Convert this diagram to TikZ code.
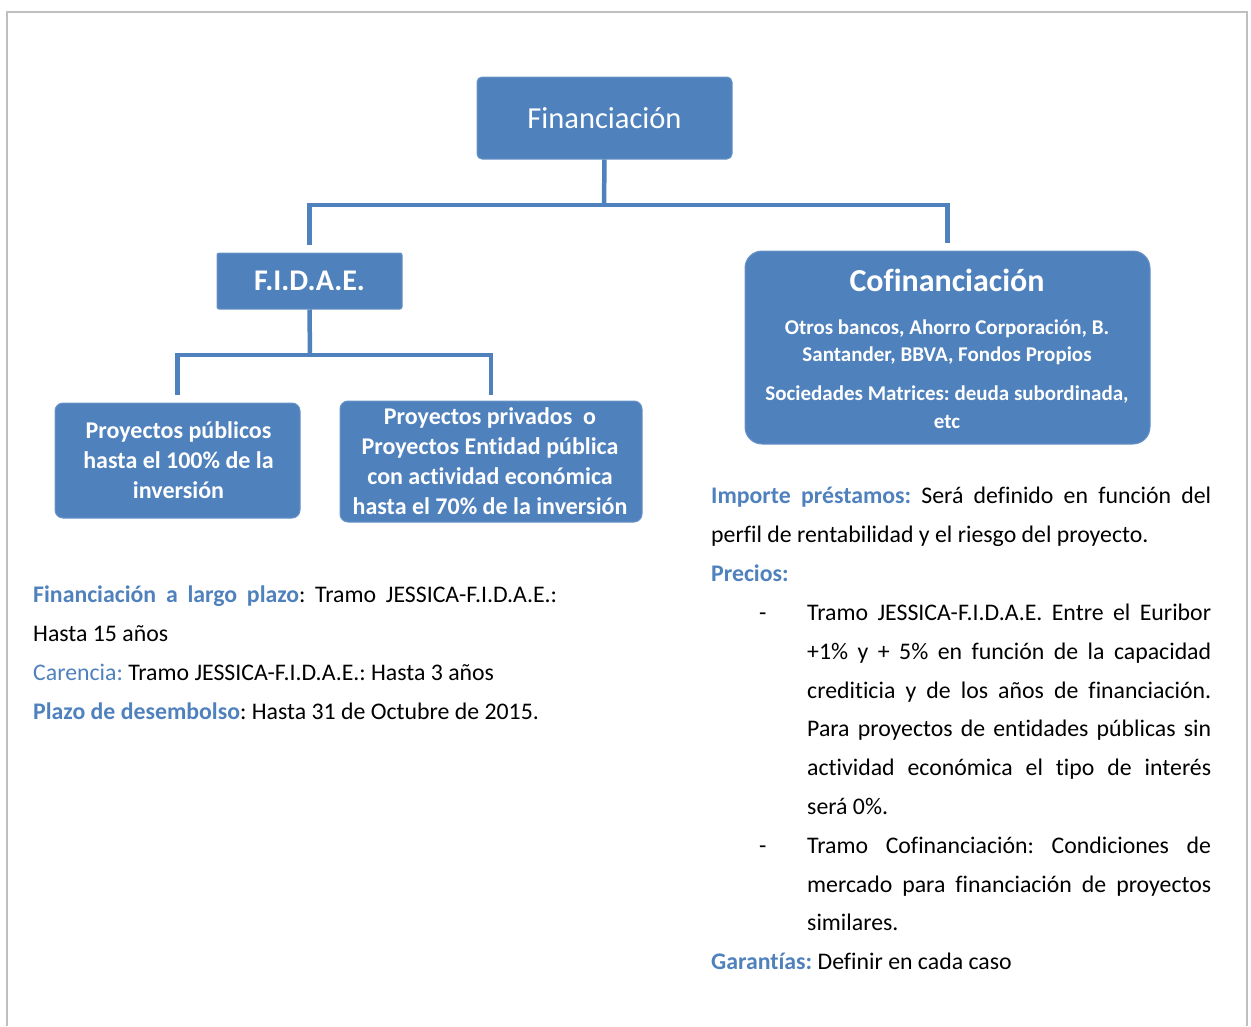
\documentclass[tikz,border=0pt]{standalone}
\usepackage{fontspec}
\setmainfont{Carlito}[Ligatures={NoCommon,NoContextual}]
\definecolor{boxblue}{HTML}{4F81BD}
\definecolor{lblblue}{HTML}{4F81BD}
\definecolor{framegray}{HTML}{BFBFBF}
\newcommand\bodyf{\fontsize{23.8}{28}\selectfont}
\newcommand\lbl[1]{\textcolor{lblblue}{\bfseries #1}}
\newcommand\jl[2]{\makebox[#1pt][s]{#2}}
\begin{document}
\frenchspacing
\begin{tikzpicture}[x=1pt,y=-1pt,
  box/.style={fill=boxblue, draw=boxblue!85!white, line width=1pt, text=white, align=center, inner sep=0pt},
  conn/.style={draw=boxblue, line width=4.5pt},
  txt/.style={anchor=base west, inner sep=0pt, font=\bodyf},
  boxtxt/.style={text=white, align=center, inner sep=0pt}]
\useasboundingbox (0,0) rectangle (1251,1026);
% frame
\draw[framegray, line width=1.5pt] (7,1026) -- (7,12) -- (1247,12) -- (1247,1026);
% boxes
\node[box, rounded corners=5pt, minimum width=255pt, minimum height=82pt,
  font=\fontsize{30.5}{36}\selectfont] (fin) at (604.5,118) {Financiación};
\node[box, rounded corners=2pt, minimum width=185pt, minimum height=56pt,
  font=\fontsize{30}{36}\selectfont\bfseries] (fidae) at (309.5,281) {F.I.D.A.E.};
\node[box, rounded corners=8pt, minimum width=245pt, minimum height=115pt] (pub) at (177.5,460.5) {};
\node[boxtxt, font=\fontsize{24}{30}\selectfont\bfseries] (pubt) at (178.5,460.5) {Proyectos públicos\\hasta el 100\% de la\\inversión};
\node[box, rounded corners=8pt, minimum width=302pt, minimum height=121pt] (priv) at (491,461.5) {};
\node[boxtxt, font=\fontsize{24}{30}\selectfont\bfseries] (privt) at (490,461.5) {Proyectos privados\ \ o\\Proyectos Entidad\ pública\\con actividad económica\\hasta el 70\% de la inversión};
\node[box, rounded corners=17pt, minimum width=405pt, minimum height=193pt] (cof) at (947.5,347.5) {};
\node[boxtxt, font=\fontsize{32}{36}\selectfont\bfseries] (coft) at (947,280) {Cofinanciación};
\node[boxtxt, font=\fontsize{21}{27}\selectfont\bfseries] (cofs1) at (947,342.5) {Otros bancos, Ahorro\ Corporación,\ B.\\Santander, BBVA, Fondos\ Propios};
\node[boxtxt, font=\fontsize{21}{28}\selectfont\bfseries] (cofs2) at (947,407) {Sociedades Matrices: deuda subordinada,\\etc};
% connectors
\coordinate (j1) at (604,205);
\coordinate (j2) at (310,355);
\draw[conn] (fin.south) -- (j1);
\draw[conn] ([yshift=8pt]fidae.north) |- (j1) -| ([yshift=8pt]cof.north);
\draw[conn] (fidae.south) -- (j2);
\draw[conn] ([yshift=8pt]pub.north) |- (j2) -| ([yshift=6pt]priv.north);
% left text
\node[txt] (l1) at (33,602) {\jl{524}{\lbl{Financiación a largo plazo}: Tramo JESSICA-F.I.D.A.E.:}};
\node[txt] (l2) at (33,641) {Hasta 15 años};
\node[txt] (l3) at (33,680) {\textcolor{lblblue}{Carencia:} Tramo JESSICA-F.I.D.A.E.: Hasta 3 años};
\node[txt] (l4) at (33,719) {\lbl{Plazo de desembolso}: Hasta 31 de Octubre de 2015.};
% right text
\node[txt] (r1) at (711,503) {\jl{500}{\lbl{Importe préstamos:} Será definido en función del}};
\node[txt] (r2) at (711,542) {perfil de rentabilidad y el riesgo del proyecto.};
\node[txt] (r3) at (711,581) {\lbl{Precios:}};
\node[txt] (b1) at (759,620) {-};
\node[txt] (r4) at (807,620) {\jl{404}{Tramo JESSICA-F.I.D.A.E. Entre el Euribor}};
\node[txt] (r5) at (807,659) {\jl{404}{+1\% y + 5\% en función de la capacidad}};
\node[txt] (r6) at (807,698) {\jl{404}{crediticia y de los años de financiación.}};
\node[txt] (r7) at (807,736) {\jl{404}{Para proyectos de entidades públicas sin}};
\node[txt] (r8) at (807,775) {\jl{404}{actividad económica el tipo de interés}};
\node[txt] (r9) at (807,814) {será 0\%.};
\node[txt] (b2) at (759,853) {-};
\node[txt] (r10) at (807,853) {\jl{404}{Tramo Cofinanciación: Condiciones de}};
\node[txt] (r11) at (807,892) {\jl{404}{mercado para financiación de proyectos}};
\node[txt] (r12) at (807,930) {similares.};
\node[txt] (r13) at (711,969) {\lbl{Garantías:} Definir en cada caso};
\end{tikzpicture}
\end{document}
